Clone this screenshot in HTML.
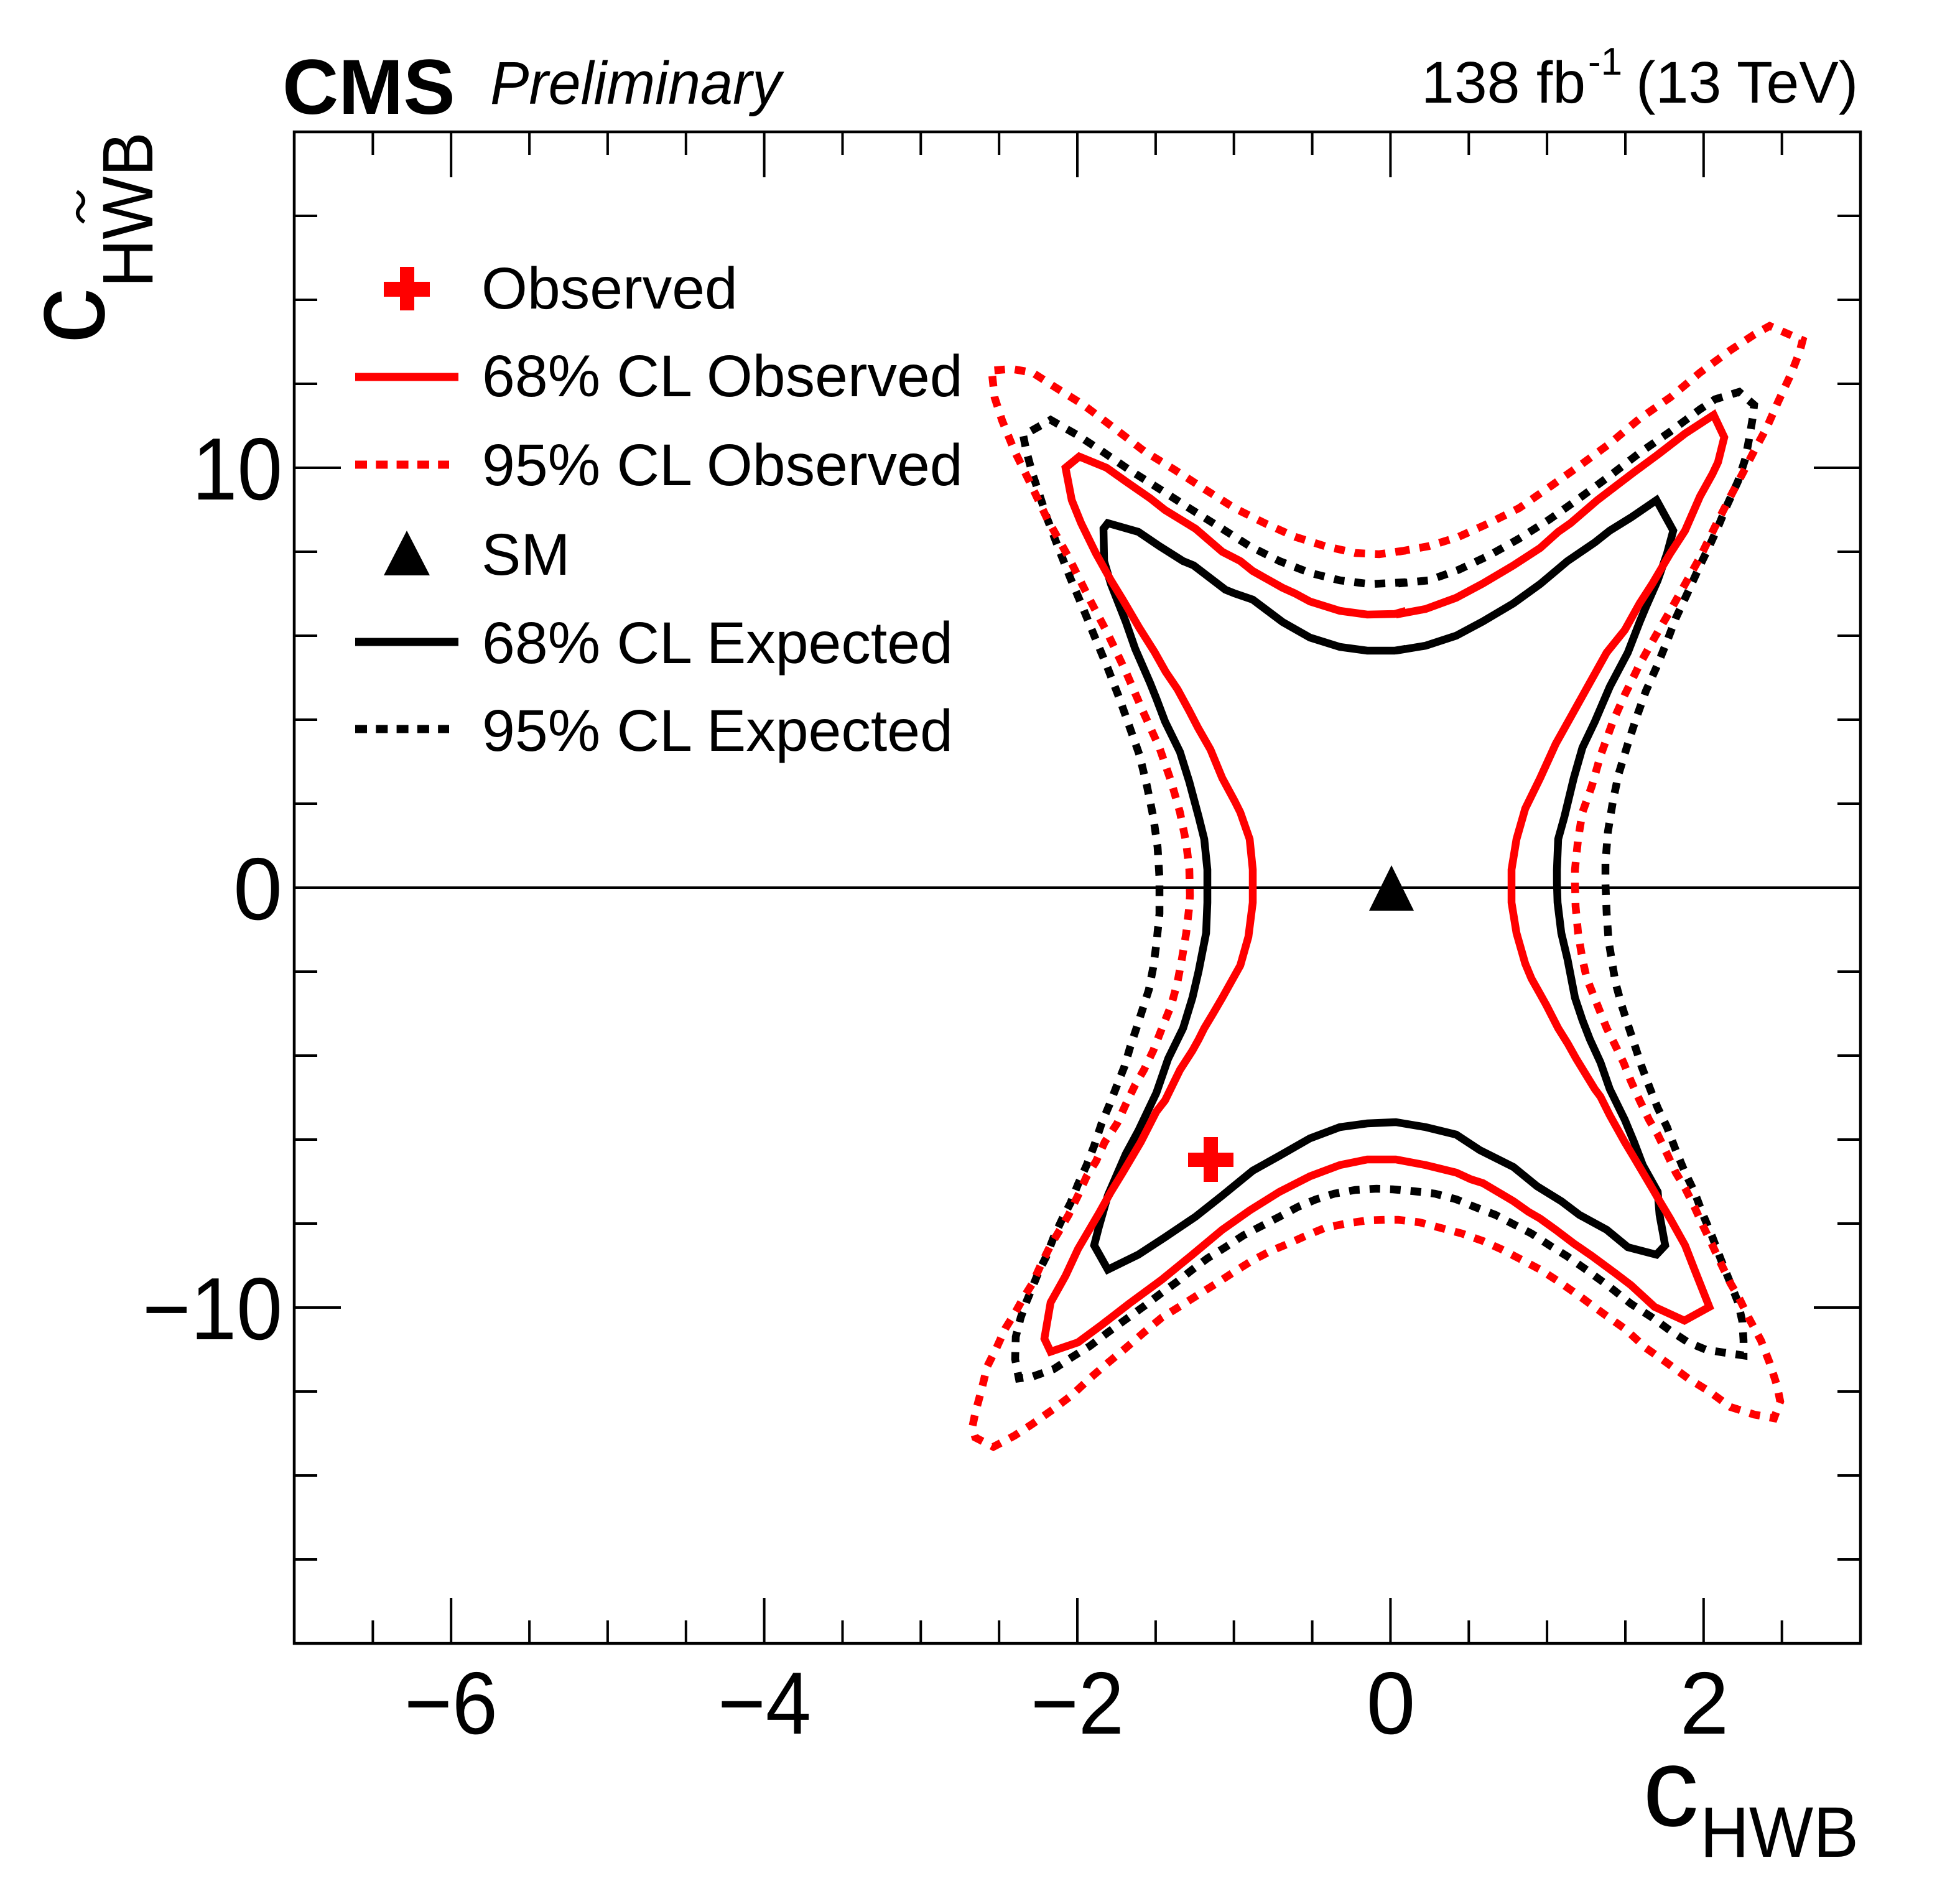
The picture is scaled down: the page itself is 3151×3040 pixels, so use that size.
<!DOCTYPE html>
<html>
<head>
<meta charset="utf-8">
<style>
html,body{margin:0;padding:0;background:#fff;}
svg{display:block;}
text{font-family:"Liberation Sans",Arial,Helvetica,sans-serif;fill:#000;}
</style>
</head>
<body>
<svg width="3151" height="3040" viewBox="0 0 3151 3040" xmlns="http://www.w3.org/2000/svg">
<rect x="0" y="0" width="3151" height="3040" fill="#fff"/>

<!-- zero line -->
<line x1="473" y1="1427" x2="2991" y2="1427" stroke="#000" stroke-width="4"/>

<!-- contours -->
<g fill="none" stroke-width="12.5" stroke-linejoin="miter" stroke-miterlimit="2" stroke-linecap="butt">
<!-- 95% CL Expected (black dashed) -->
<polygon stroke="#000" stroke-dasharray="17 16" points="2260,936 2203,939 2154,933 2106,921 2057,902 2009,878 1960,847 1912,817 1864,786 1815,755 1771,725 1733,700 1689,675 1645,700 1650,725 1660,762 1670,792 1684,835 1702,882 1721,930 1740,975 1760,1024 1780,1072 1799,1121 1815,1166 1832,1214 1844,1264 1854,1313 1861,1362 1864,1411 1864,1469 1859,1518 1854,1555 1847,1591 1837,1622 1827,1653 1817,1683 1808,1714 1796,1744 1784,1775 1771,1806 1759,1842 1747,1873 1733,1904 1721,1934 1708,1959 1694,1989 1682,2020 1670,2044 1660,2069 1650,2093 1641,2118 1633,2149 1632,2185 1638,2216 1660,2213 1694,2201 1723,2182 1752,2164 1781,2142 1810,2121 1839,2100 1864,2081 1893,2060 1917,2041 1941,2023 1970,2005 1999,1986 2028,1971 2057,1956 2087,1940 2116,1928 2145,1919 2179,1913 2213,1911 2239,1912 2273,1915 2307,1919 2341,1928 2370,1940 2404,1953 2433,1968 2462,1983 2491,2002 2520,2020 2554,2044 2588,2069 2622,2096 2656,2118 2685,2139 2714,2158 2743,2170 2782,2176 2803,2179 2803,2155 2801,2124 2794,2093 2782,2063 2767,2026 2753,1989 2738,1953 2724,1916 2709,1885 2694,1849 2680,1812 2665,1781 2653,1751 2639,1714 2627,1677 2617,1647 2607,1616 2597,1579 2592,1549 2586,1512 2583,1469 2581,1420 2581,1386 2585,1337 2593,1288 2602,1245 2617,1196 2631,1153 2646,1111 2665,1068 2680,1031 2694,994 2714,951 2733,909 2748,878 2762,847 2777,811 2794,774 2806,737 2813,700 2818,670 2820,651 2796,630 2757,642 2733,658 2685,694 2636,728 2588,765 2539,801 2491,835 2442,866 2394,893 2345,916 2297,933 2248,938"/>
<!-- 68% CL Expected (black solid) -->
<polygon stroke="#000" points="2260,1043 2242,1046 2198,1046 2154,1040 2106,1025 2062,1000 2014,964 1985,954 1970,948 1919,909 1902,902 1864,878 1830,855 1781,841 1774,850 1775,902 1786,939 1810,1000 1825,1043 1849,1098 1859,1123 1873,1160 1897,1209 1912,1257 1927,1313 1936,1349 1941,1398 1941,1451 1939,1500 1927,1561 1917,1604 1902,1653 1878,1702 1859,1757 1830,1818 1810,1855 1781,1922 1767,1971 1759,2002 1781,2041 1830,2017 1873,1989 1922,1956 1965,1922 2014,1882 2057,1858 2106,1830 2154,1812 2198,1806 2244,1804 2292,1812 2341,1824 2379,1849 2433,1876 2471,1907 2510,1931 2539,1953 2583,1977 2617,2005 2663,2017 2677,2002 2668,1953 2665,1916 2641,1873 2627,1836 2612,1800 2588,1751 2573,1708 2556,1671 2544,1640 2532,1604 2520,1542 2510,1500 2504,1451 2503,1420 2503,1398 2505,1349 2515,1313 2530,1251 2544,1202 2564,1160 2588,1104 2617,1049 2636,1000 2646,976 2665,933 2680,890 2690,853 2663,804 2622,832 2588,853 2564,872 2520,902 2476,939 2433,970 2384,999 2341,1022 2292,1038 2244,1046"/>
<!-- 95% CL Observed (red dashed) -->
<polygon stroke="#ff0000" stroke-dasharray="17 16" points="2260,885 2217,891 2179,889 2130,878 2082,863 2033,841 1985,817 1936,786 1888,755 1839,725 1791,688 1742,651 1694,621 1660,599 1626,593 1592,596 1595,602 1599,639 1611,676 1631,725 1655,774 1684,835 1718,896 1752,964 1781,1019 1810,1080 1839,1147 1864,1202 1883,1257 1897,1306 1907,1355 1912,1398 1913,1440 1912,1457 1907,1500 1900,1542 1893,1579 1883,1616 1868,1653 1854,1689 1839,1720 1825,1744 1810,1775 1796,1806 1776,1836 1762,1867 1747,1891 1733,1922 1718,1953 1704,1977 1689,2002 1674,2032 1660,2063 1645,2087 1631,2112 1616,2136 1602,2167 1587,2197 1578,2234 1568,2271 1563,2295 1568,2311 1597,2326 1631,2308 1660,2289 1694,2265 1723,2243 1752,2216 1781,2191 1810,2167 1839,2142 1868,2118 1897,2100 1927,2081 1956,2063 1985,2044 2014,2026 2043,2011 2072,1999 2101,1986 2130,1974 2164,1967 2198,1962 2227,1961 2248,1961 2282,1965 2316,1974 2350,1983 2384,1995 2413,2008 2442,2023 2476,2041 2510,2063 2544,2087 2578,2112 2612,2136 2646,2167 2680,2191 2714,2216 2748,2237 2782,2262 2820,2274 2852,2280 2862,2253 2857,2228 2845,2191 2831,2155 2811,2118 2796,2087 2782,2063 2767,2032 2753,2002 2738,1971 2724,1940 2709,1910 2694,1885 2680,1855 2665,1824 2651,1800 2636,1769 2622,1738 2610,1708 2595,1677 2583,1653 2573,1628 2561,1598 2551,1573 2544,1542 2537,1500 2533,1457 2532,1420 2532,1398 2537,1349 2544,1306 2559,1264 2573,1215 2593,1160 2612,1117 2636,1068 2660,1025 2685,982 2709,939 2733,896 2757,847 2782,798 2801,762 2820,725 2840,688 2859,645 2879,602 2893,566 2898,547 2845,524 2820,538 2782,563 2733,599 2685,639 2636,673 2588,713 2539,749 2491,783 2442,817 2394,841 2345,863 2297,878 2248,887"/>
<!-- 68% CL Observed (red solid) -->
<polygon stroke="#ff0000" points="2260,982 2242,987 2198,988 2154,982 2106,967 2082,954 2062,945 2014,918 1994,902 1965,887 1922,850 1873,820 1849,801 1810,774 1779,752 1735,734 1713,752 1723,804 1738,841 1762,890 1786,933 1805,964 1832,1010 1856,1048 1874,1080 1893,1108 1912,1143 1926,1170 1946,1205 1965,1251 1985,1288 1994,1306 2009,1349 2014,1398 2014,1451 2007,1506 1994,1552 1965,1604 1951,1628 1936,1653 1927,1671 1917,1689 1897,1720 1873,1769 1859,1787 1834,1836 1805,1885 1786,1916 1767,1950 1733,2008 1713,2051 1689,2094 1679,2152 1689,2173 1733,2158 1771,2130 1815,2096 1868,2057 1917,2017 1965,1977 2009,1946 2057,1916 2106,1891 2154,1873 2198,1864 2244,1864 2292,1873 2341,1885 2365,1896 2384,1902 2433,1931 2457,1948 2476,1959 2501,1977 2530,1999 2559,2019 2597,2047 2622,2066 2660,2101 2708,2123 2748,2101 2723,2038 2709,2002 2685,1959 2670,1934 2656,1910 2627,1861 2612,1836 2588,1793 2573,1763 2564,1751 2534,1702 2520,1677 2505,1653 2486,1616 2476,1598 2462,1573 2452,1549 2438,1500 2430,1451 2430,1420 2430,1398 2438,1349 2452,1300 2476,1251 2501,1196 2525,1153 2559,1092 2583,1049 2612,1013 2636,970 2656,939 2685,890 2709,853 2733,798 2753,762 2762,743 2772,703 2755,667 2709,697 2665,731 2627,759 2568,804 2525,841 2505,855 2476,881 2433,909 2384,938 2341,961 2292,979 2244,988"/>
</g>

<!-- markers in plot -->
<rect x="1910" y="1853" width="73" height="23" fill="#ff0000"/>
<rect x="1935" y="1828" width="23" height="72" fill="#ff0000"/>
<polygon points="2237,1391 2273,1464 2201,1464" fill="#000"/>

<!-- frame -->
<rect x="473" y="212" width="2518" height="2430" fill="none" stroke="#000" stroke-width="4.5"/>

<!-- ticks -->
<g stroke="#000" stroke-width="4">
<path d="M599.4 2642V2605 M725.2 2642V2569 M851.1 2642V2605 M976.9 2642V2605 M1102.8 2642V2605 M1228.6 2642V2569 M1354.5 2642V2605 M1480.3 2642V2605 M1606.2 2642V2605 M1732 2642V2569 M1857.9 2642V2605 M1983.7 2642V2605 M2109.6 2642V2605 M2235.4 2642V2569 M2361.3 2642V2605 M2487.1 2642V2605 M2613 2642V2605 M2738.8 2642V2569 M2864.7 2642V2605"/>
<path d="M599.4 212V249 M725.2 212V285 M851.1 212V249 M976.9 212V249 M1102.8 212V249 M1228.6 212V285 M1354.5 212V249 M1480.3 212V249 M1606.2 212V249 M1732 212V285 M1857.9 212V249 M1983.7 212V249 M2109.6 212V249 M2235.4 212V285 M2361.3 212V249 M2487.1 212V249 M2613 212V249 M2738.8 212V285 M2864.7 212V249"/>
<path d="M473 347H510 M473 482H510 M473 617H510 M473 752H548 M473 887H510 M473 1022H510 M473 1157H510 M473 1292H510 M473 1427H548 M473 1562H510 M473 1697H510 M473 1832H510 M473 1967H510 M473 2102H548 M473 2237H510 M473 2372H510 M473 2507H510"/>
<path d="M2991 347H2954 M2991 482H2954 M2991 617H2954 M2991 752H2916 M2991 887H2954 M2991 1022H2954 M2991 1157H2954 M2991 1292H2954 M2991 1427H2916 M2991 1562H2954 M2991 1697H2954 M2991 1832H2954 M2991 1967H2954 M2991 2102H2916 M2991 2237H2954 M2991 2372H2954 M2991 2507H2954"/>
</g>

<!-- x tick labels -->
<g font-size="142" text-anchor="middle">
<text x="725" y="2787" textLength="150" lengthAdjust="spacingAndGlyphs">−6</text>
<text x="1229" y="2787" textLength="150" lengthAdjust="spacingAndGlyphs">−4</text>
<text x="1732" y="2787" textLength="150" lengthAdjust="spacingAndGlyphs">−2</text>
<text x="2236" y="2787">0</text>
<text x="2740" y="2787">2</text>
</g>
<!-- y tick labels -->
<g font-size="142" text-anchor="end">
<text x="454" y="803" textLength="145" lengthAdjust="spacingAndGlyphs">10</text>
<text x="454" y="1478">0</text>
<text x="454" y="2153" textLength="225" lengthAdjust="spacingAndGlyphs">−10</text>
</g>

<!-- axis titles -->
<text x="2641" y="2935" font-size="180">c</text>
<text x="2733" y="2985" font-size="115" textLength="255" lengthAdjust="spacingAndGlyphs">HWB</text>

<text x="-553" y="167" font-size="180" transform="rotate(-90)">c</text>
<text x="-462" y="245" font-size="115" textLength="250" lengthAdjust="spacingAndGlyphs" transform="rotate(-90)">HWB</text>
<path d="M135.5 357 C123.5 349.6 122 339.9 129.5 332.5 C137 325.2 135.5 315.4 123.5 308" fill="none" stroke="#000" stroke-width="6"/>

<!-- header -->
<text x="454" y="183" font-size="125" font-weight="bold">CMS</text>
<text x="788" y="167" font-size="97" font-style="italic" textLength="468" lengthAdjust="spacingAndGlyphs">Preliminary</text>
<text x="2285" y="165" font-size="95">138 fb</text>
<text x="2553" y="120" font-size="62">-1</text>
<text x="2630" y="165" font-size="95">(13 TeV)</text>

<!-- legend -->
<rect x="617" y="453" width="74" height="24" fill="#ff0000"/>
<rect x="643" y="429" width="23" height="70" fill="#ff0000"/>
<line x1="571" y1="606" x2="737" y2="606" stroke="#ff0000" stroke-width="13"/>
<line x1="571" y1="747" x2="722" y2="747" stroke="#ff0000" stroke-width="13" stroke-dasharray="19 14.3"/>
<polygon points="654,853 691,925 617,925" fill="#000"/>
<line x1="571" y1="1032" x2="737" y2="1032" stroke="#000" stroke-width="13"/>
<line x1="571" y1="1172" x2="722" y2="1172" stroke="#000" stroke-width="13" stroke-dasharray="19 14.3"/>

<g font-size="95">
<text x="774" y="496">Observed</text>
<text x="775" y="637">68% CL Observed</text>
<text x="775" y="780">95% CL Observed</text>
<text x="774" y="924">SM</text>
<text x="775" y="1066">68% CL Expected</text>
<text x="775" y="1207">95% CL Expected</text>
</g>
</svg>
</body>
</html>
